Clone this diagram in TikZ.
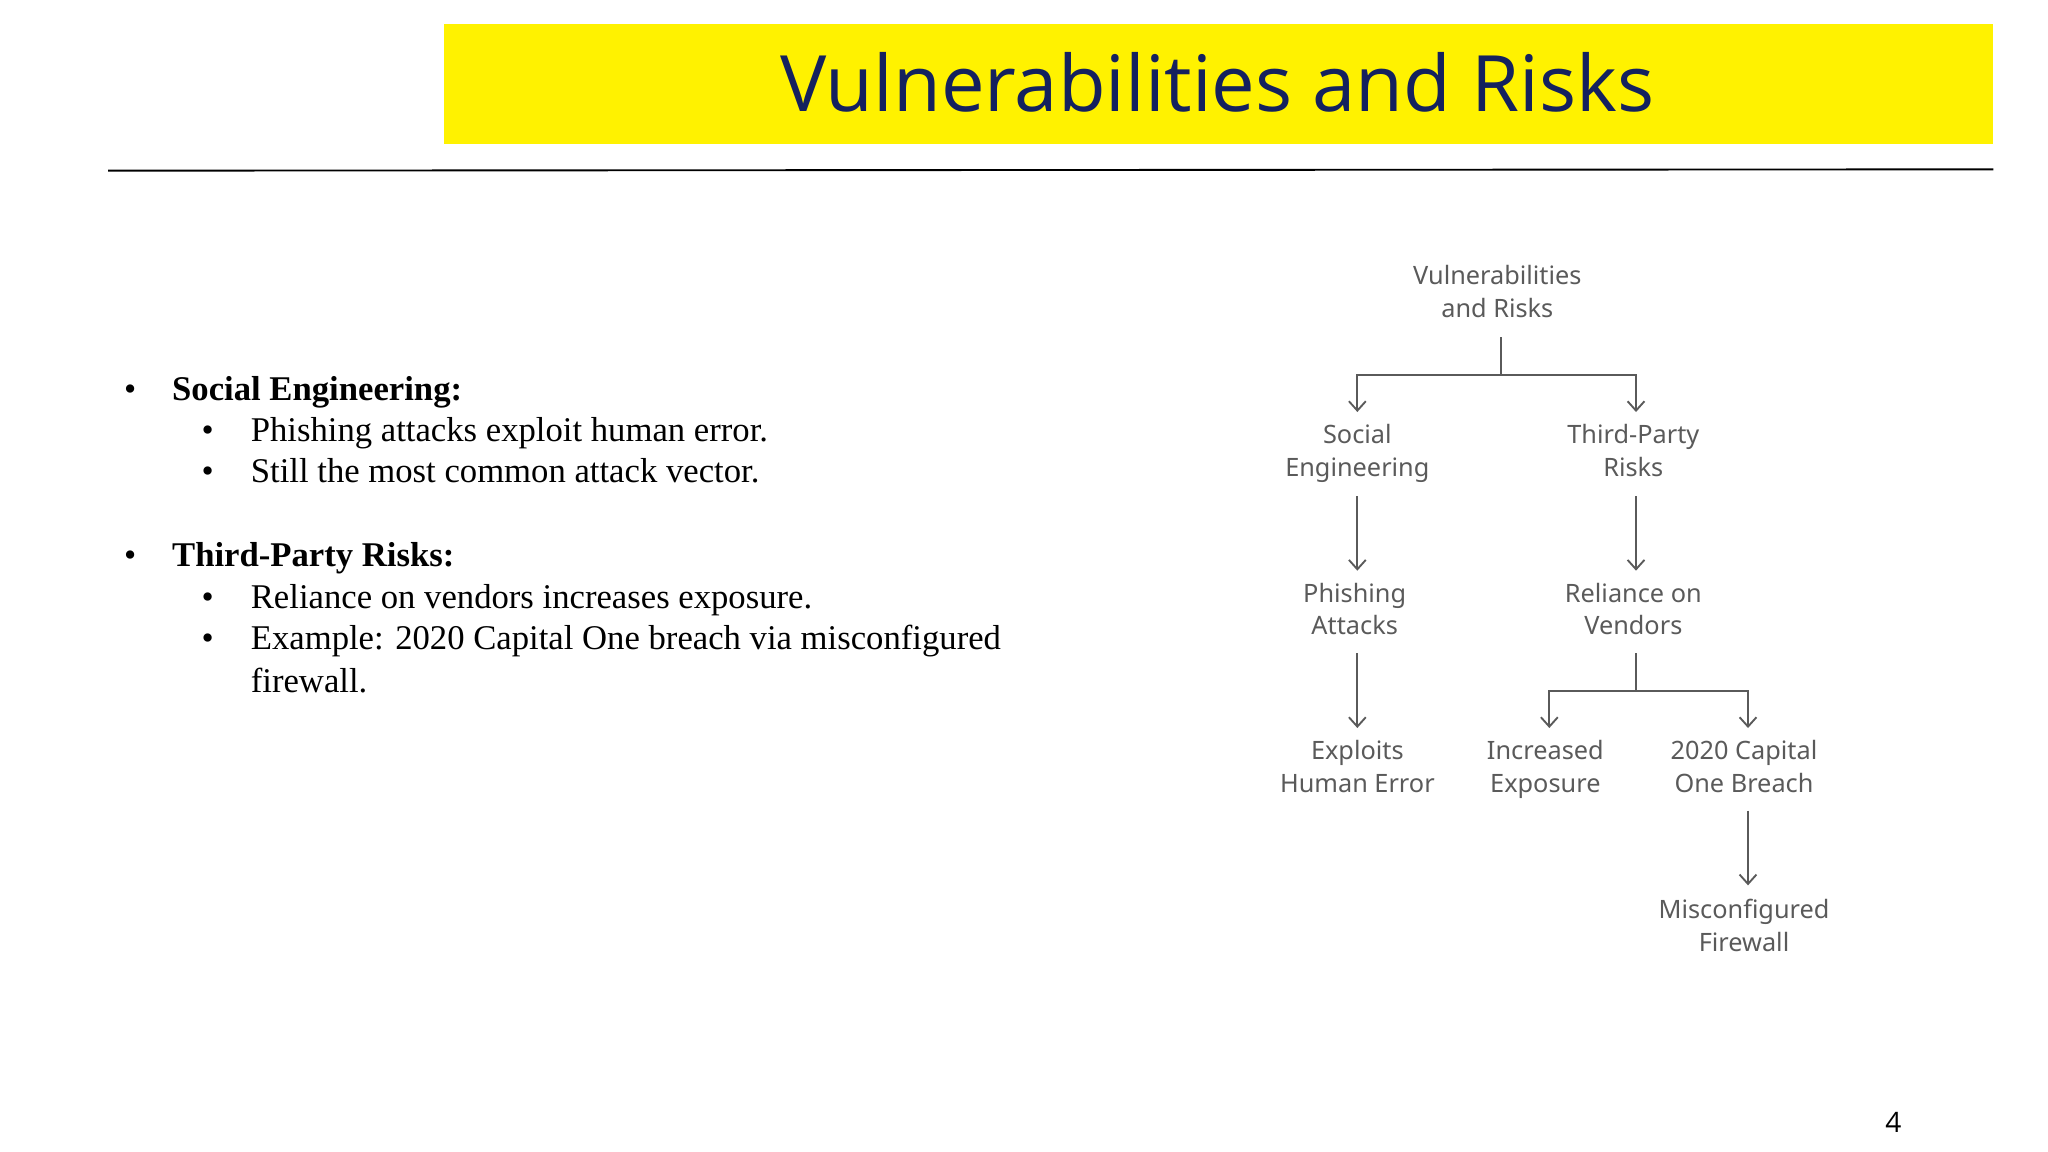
\documentclass[tikz,border=0pt]{standalone}
\usepackage{fontspec}
\setmainfont{Liberation Serif}
\newfontfamily\titlefont{Open Sans}
\newfontfamily\diafont{Noto Sans}
\usetikzlibrary{arrows.meta}
\definecolor{navy}{HTML}{14215E}
\definecolor{dgray}{HTML}{5A5A5A}
\tikzset{
  dnode/.style={font=\diafont\fontsize{27}{35}\selectfont, text=dgray, align=center, inner sep=0, anchor=north},
  conn/.style={draw=dgray, line width=2pt},
  arr/.style={conn, -{Straight Barb[length=10pt,width=18pt,line width=2pt]}},
  btext/.style={anchor=base west, inner sep=0, font=\fontsize{37}{44}\selectfont},
}
\begin{document}
\begin{tikzpicture}[x=0.05cm,y=-0.05cm]
\useasboundingbox (0,0) rectangle (1536,864);
\fill[yellow] (333,18) rectangle (1495,108);
\node[font=\titlefont\fontsize{83}{90}\selectfont, text=navy, inner sep=0] (title) at (913,62) {Vulnerabilities and Risks};
\draw[line width=2pt] (81,128) coordinate (l1) -- (1495,127) coordinate (l2);
% bullets
\foreach \y/\t/\lvl in {300/{\textbf{Social Engineering:}}/0, 331/{Phishing attacks exploit human error.}/1, 362/{Still the most common attack vector.}/1, 425/{\textbf{Third-Party Risks:}}/0, 456/{Reliance on vendors increases exposure.}/1, 487/{Example: 2020 Capital One breach via misconfigured}/1}{
  \ifnum\lvl=0
    \node[btext] at (93,\y) {\textbullet};
    \node[btext] at (129,\y) {\t};
  \else
    \node[btext] at (151,\y) {\textbullet};
    \node[btext] at (188,\y) {\t};
  \fi
}
\node[btext] (fw) at (188,519) {firewall.};
% diagram
\node[dnode] (root) at (1123,199) {Vulnerabilities\\and Risks};
\node[dnode] (se) at (1018,318) {Social\\Engineering};
\node[dnode] (tp) at (1225,318) {Third-Party\\Risks};
\node[dnode] (pa) at (1016,437) {Phishing\\Attacks};
\node[dnode] (rv) at (1225,437) {Reliance on\\Vendors};
\node[dnode] (eh) at (1018,555) {Exploits\\Human Error};
\node[dnode] (ie) at (1159,555) {Increased\\Exposure};
\node[dnode] (co) at (1308,555) {2020 Capital\\One Breach};
\node[dnode] (mf) at (1308,674) {Misconfigured\\Firewall};
\coordinate (r0) at (1126,253); \coordinate (r1) at (1126,281);
\coordinate (a1) at (1018,309); \coordinate (a2) at (1227,309);
\draw[conn] (r0) -- (r1);
\draw[arr] (r1) -| (a1);
\draw[arr] (r1) -| (a2);
\draw[arr] (1018,372) coordinate (s0) -- (1018,428) coordinate (s1);
\draw[arr] (1227,372) coordinate (t0) -- (1227,428) coordinate (t1);
\draw[arr] (1018,490) coordinate (p0) -- (1018,546) coordinate (p1);
\coordinate (v0) at (1227,490); \coordinate (v1) at (1227,518);
\coordinate (b1) at (1162,546); \coordinate (b2) at (1311,546);
\draw[conn] (v0) -- (v1);
\draw[arr] (v1) -| (b1);
\draw[arr] (v1) -| (b2);
\draw[arr] (1311,608) coordinate (c0) -- (1311,664) coordinate (c1);
\node[font=\titlefont\fontsize{30}{36}\selectfont, inner sep=0] (pg) at (1420,842) {4};
\end{tikzpicture}
\end{document}
